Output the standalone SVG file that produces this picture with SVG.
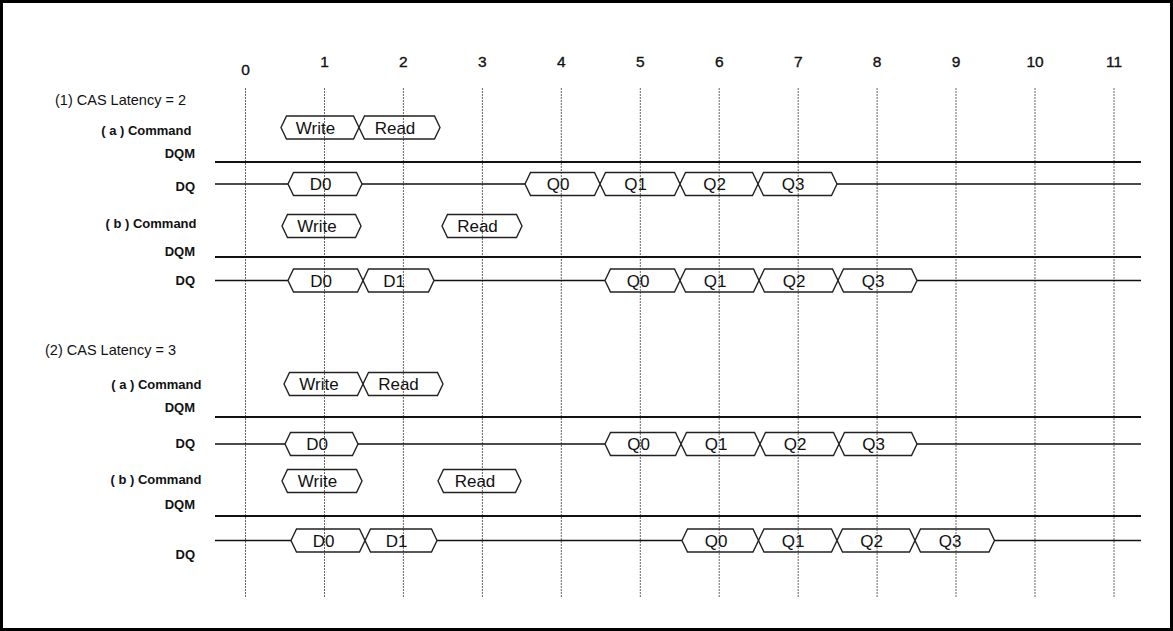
<svg xmlns="http://www.w3.org/2000/svg" width="1173" height="631" viewBox="0 0 1173 631">
<style>
.frame{fill:#fff;stroke:#000;stroke-width:3}
.grid{stroke:#666;stroke-width:1;stroke-dasharray:2 1;fill:none}
.num{font-family:"Liberation Sans",Arial,sans-serif;font-size:15.5px;fill:#111;stroke:#111;stroke-width:0.35;text-anchor:middle}
.title{font-family:"Liberation Sans",Arial,sans-serif;font-size:14.5px;fill:#111}
.lbl{font-family:"Liberation Sans",Arial,sans-serif;font-size:13px;font-weight:bold;fill:#111;text-anchor:end}
.box{fill:none;stroke:#222;stroke-width:1.4;stroke-linejoin:miter}
.bt{font-family:"Liberation Sans",Arial,sans-serif;font-size:17px;fill:#111;text-anchor:middle}
.dqm{stroke:#111;stroke-width:2;fill:none}
.dq{stroke:#111;stroke-width:1.6;fill:none}
</style>
<rect class="frame" x="1.5" y="1.5" width="1170" height="628"/>
<g id="clock-grid">
<line class="grid" x1="245.5" y1="88" x2="245.5" y2="598"/>
<line class="grid" x1="324.5" y1="88" x2="324.5" y2="598"/>
<line class="grid" x1="403.4" y1="88" x2="403.4" y2="598"/>
<line class="grid" x1="482.4" y1="88" x2="482.4" y2="598"/>
<line class="grid" x1="561.3" y1="88" x2="561.3" y2="598"/>
<line class="grid" x1="640.3" y1="88" x2="640.3" y2="598"/>
<line class="grid" x1="719.2" y1="88" x2="719.2" y2="598"/>
<line class="grid" x1="798.2" y1="88" x2="798.2" y2="598"/>
<line class="grid" x1="877.1" y1="88" x2="877.1" y2="598"/>
<line class="grid" x1="956" y1="88" x2="956" y2="598"/>
<line class="grid" x1="1035" y1="88" x2="1035" y2="598"/>
<line class="grid" x1="1114" y1="88" x2="1114" y2="598"/>
<text class="num" x="245.5" y="75">0</text>
<text class="num" x="324.5" y="66.5">1</text>
<text class="num" x="403.4" y="66.5">2</text>
<text class="num" x="482.4" y="66.5">3</text>
<text class="num" x="561.3" y="66.5">4</text>
<text class="num" x="640.3" y="66.5">5</text>
<text class="num" x="719.2" y="66.5">6</text>
<text class="num" x="798.2" y="66.5">7</text>
<text class="num" x="877.1" y="66.5">8</text>
<text class="num" x="956" y="66.5">9</text>
<text class="num" x="1035" y="66.5">10</text>
<text class="num" x="1114" y="66.5">11</text>
</g>
<g id="labels">
<text class="title" x="55" y="105">(1) CAS Latency = 2</text>
<text class="lbl" x="191.5" y="135">( a ) Command</text>
<text class="lbl" x="195" y="158">DQM</text>
<text class="lbl" x="195" y="191">DQ</text>
<text class="lbl" x="196.5" y="228">( b ) Command</text>
<text class="lbl" x="195" y="256">DQM</text>
<text class="lbl" x="195" y="285">DQ</text>
<text class="title" x="45" y="355">(2) CAS Latency = 3</text>
<text class="lbl" x="201.5" y="389">( a ) Command</text>
<text class="lbl" x="195" y="412">DQM</text>
<text class="lbl" x="195" y="448">DQ</text>
<text class="lbl" x="201.5" y="484">( b ) Command</text>
<text class="lbl" x="195" y="509">DQM</text>
<text class="lbl" x="195" y="559">DQ</text>
</g>
<g id="connectors">
<line class="dqm" x1="215" y1="162" x2="1141" y2="162"/>
<line class="dqm" x1="215" y1="257" x2="1141" y2="257"/>
<line class="dqm" x1="215" y1="417" x2="1141" y2="417"/>
<line class="dqm" x1="215" y1="516" x2="1141" y2="516"/>
<path class="dq" d="M215 184H288M362 184H525M837 184H1141"/>
<path class="dq" d="M215 280.5H288M434 280.5H605M917 280.5H1141"/>
<path class="dq" d="M215 444H285M358 444H605M917 444H1141"/>
<path class="dq" d="M215 540.5H291M437 540.5H682M994.5 540.5H1141"/>
</g>
<g id="row1a-command">
<g id="n1a-write"><polygon class="box" points="281,127.5 286.5,116 353.5,116 359,127.5 353.5,139 286.5,139"/><text class="bt" x="315.5" y="133.5">Write</text></g>
<g id="n1a-read"><polygon class="box" points="359,127.5 364.5,116 434.5,116 440,127.5 434.5,139 364.5,139"/><text class="bt" x="395" y="133.5">Read</text></g>
</g>
<g id="row1a-dq">
<g id="n1a-d0"><polygon class="box" points="288,184 293.5,172.5 356.5,172.5 362,184 356.5,195.5 293.5,195.5"/><text class="bt" x="320.5" y="190">D0</text></g>
<g id="n1a-q0"><polygon class="box" points="525,184 530.5,172.5 594.5,172.5 600,184 594.5,195.5 530.5,195.5"/><text class="bt" x="558" y="190">Q0</text></g>
<g id="n1a-q1"><polygon class="box" points="600,184 605.5,172.5 674.5,172.5 680,184 674.5,195.5 605.5,195.5"/><text class="bt" x="635.5" y="190">Q1</text></g>
<g id="n1a-q2"><polygon class="box" points="680,184 685.5,172.5 752.5,172.5 758,184 752.5,195.5 685.5,195.5"/><text class="bt" x="714.5" y="190">Q2</text></g>
<g id="n1a-q3"><polygon class="box" points="758,184 763.5,172.5 831.5,172.5 837,184 831.5,195.5 763.5,195.5"/><text class="bt" x="793" y="190">Q3</text></g>
</g>
<g id="row1b-command">
<g id="n1b-write"><polygon class="box" points="282,226 287.5,214.5 355.5,214.5 361,226 355.5,237.5 287.5,237.5"/><text class="bt" x="317" y="232">Write</text></g>
<g id="n1b-read"><polygon class="box" points="442,226 447.5,214.5 516.5,214.5 522,226 516.5,237.5 447.5,237.5"/><text class="bt" x="477.5" y="232">Read</text></g>
</g>
<g id="row1b-dq">
<g id="n1b-d0"><polygon class="box" points="288,280.5 293.5,269 357.5,269 363,280.5 357.5,292 293.5,292"/><text class="bt" x="321" y="286.5">D0</text></g>
<g id="n1b-d1"><polygon class="box" points="363,280.5 368.5,269 428.5,269 434,280.5 428.5,292 368.5,292"/><text class="bt" x="394" y="286.5">D1</text></g>
<g id="n1b-q0"><polygon class="box" points="605,280.5 610.5,269 674.5,269 680,280.5 674.5,292 610.5,292"/><text class="bt" x="638" y="286.5">Q0</text></g>
<g id="n1b-q1"><polygon class="box" points="680,280.5 685.5,269 753.5,269 759,280.5 753.5,292 685.5,292"/><text class="bt" x="715" y="286.5">Q1</text></g>
<g id="n1b-q2"><polygon class="box" points="759,280.5 764.5,269 832.5,269 838,280.5 832.5,292 764.5,292"/><text class="bt" x="794" y="286.5">Q2</text></g>
<g id="n1b-q3"><polygon class="box" points="838,280.5 843.5,269 911.5,269 917,280.5 911.5,292 843.5,292"/><text class="bt" x="873" y="286.5">Q3</text></g>
</g>
<g id="row2a-command">
<g id="n2a-write"><polygon class="box" points="284,384 289.5,372.5 357.5,372.5 363,384 357.5,395.5 289.5,395.5"/><text class="bt" x="319" y="390">Write</text></g>
<g id="n2a-read"><polygon class="box" points="363,384 368.5,372.5 437.5,372.5 443,384 437.5,395.5 368.5,395.5"/><text class="bt" x="398.5" y="390">Read</text></g>
</g>
<g id="row2a-dq">
<g id="n2a-d0"><polygon class="box" points="285,444 290.5,432.5 352.5,432.5 358,444 352.5,455.5 290.5,455.5"/><text class="bt" x="317" y="450">D0</text></g>
<g id="n2a-q0"><polygon class="box" points="605,444 610.5,432.5 675.5,432.5 681,444 675.5,455.5 610.5,455.5"/><text class="bt" x="638.5" y="450">Q0</text></g>
<g id="n2a-q1"><polygon class="box" points="681,444 686.5,432.5 754.5,432.5 760,444 754.5,455.5 686.5,455.5"/><text class="bt" x="716" y="450">Q1</text></g>
<g id="n2a-q2"><polygon class="box" points="760,444 765.5,432.5 833.5,432.5 839,444 833.5,455.5 765.5,455.5"/><text class="bt" x="795" y="450">Q2</text></g>
<g id="n2a-q3"><polygon class="box" points="839,444 844.5,432.5 911.5,432.5 917,444 911.5,455.5 844.5,455.5"/><text class="bt" x="873.5" y="450">Q3</text></g>
</g>
<g id="row2b-command">
<g id="n2b-write"><polygon class="box" points="282,481 287.5,469.5 356.5,469.5 362,481 356.5,492.5 287.5,492.5"/><text class="bt" x="317.5" y="487">Write</text></g>
<g id="n2b-read"><polygon class="box" points="438,481 443.5,469.5 515.5,469.5 521,481 515.5,492.5 443.5,492.5"/><text class="bt" x="475" y="487">Read</text></g>
</g>
<g id="row2b-dq">
<g id="n2b-d0"><polygon class="box" points="291,540.5 296.5,529 359.5,529 365,540.5 359.5,552 296.5,552"/><text class="bt" x="323.5" y="546.5">D0</text></g>
<g id="n2b-d1"><polygon class="box" points="365,540.5 370.5,529 431.5,529 437,540.5 431.5,552 370.5,552"/><text class="bt" x="396.5" y="546.5">D1</text></g>
<g id="n2b-q0"><polygon class="box" points="682,540.5 687.5,529 753,529 758.5,540.5 753,552 687.5,552"/><text class="bt" x="716" y="546.5">Q0</text></g>
<g id="n2b-q1"><polygon class="box" points="758.5,540.5 764,529 831.5,529 837,540.5 831.5,552 764,552"/><text class="bt" x="793" y="546.5">Q1</text></g>
<g id="n2b-q2"><polygon class="box" points="837,540.5 842.5,529 909.5,529 915,540.5 909.5,552 842.5,552"/><text class="bt" x="871.5" y="546.5">Q2</text></g>
<g id="n2b-q3"><polygon class="box" points="915,540.5 920.5,529 989,529 994.5,540.5 989,552 920.5,552"/><text class="bt" x="950" y="546.5">Q3</text></g>
</g>
</svg>
